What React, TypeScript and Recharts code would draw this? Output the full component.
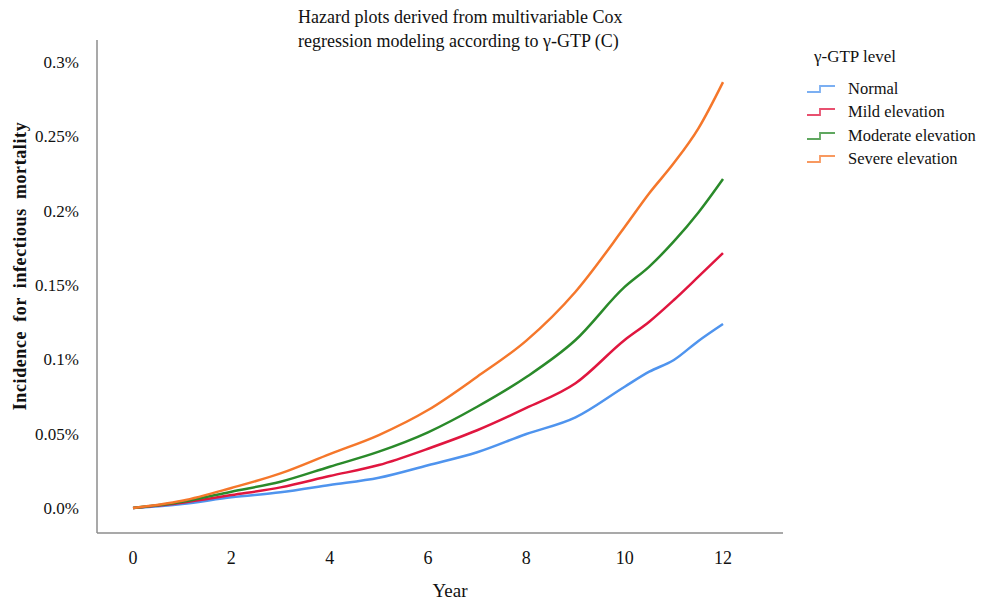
import React from "react"
import { LineChart, Line, XAxis, YAxis } from "recharts"

// years of follow-up
const years = [0, 1, 2, 3, 4, 5, 6, 7, 8, 9, 10, 10.5, 11, 11.5, 12]

// cumulative incidence (%)
const normal = [0, 0.0027, 0.0072, 0.0106, 0.0155, 0.0204, 0.0288, 0.0375, 0.0498, 0.061, 0.0816, 0.0917, 0.0996, 0.1124, 0.1238]
const mild = [0, 0.0036, 0.0087, 0.0139, 0.0215, 0.0289, 0.0399, 0.0523, 0.0673, 0.0839, 0.113, 0.1253, 0.1399, 0.1556, 0.1715]
const moderate = [0, 0.0042, 0.011, 0.0177, 0.0278, 0.0379, 0.0509, 0.0681, 0.0881, 0.113, 0.1487, 0.1624, 0.1793, 0.1988, 0.2213]
const severe = [0, 0.0049, 0.0135, 0.0233, 0.0363, 0.0491, 0.0659, 0.0883, 0.1126, 0.1455, 0.189, 0.2117, 0.232, 0.2554, 0.2865]

const xTicks = [0, 2, 4, 6, 8, 10, 12]
const yTicks = [0, 0.05, 0.1, 0.15, 0.2, 0.25, 0.3]
const yTickLabels = ["0.0%", "0.05%", "0.1%", "0.15%", "0.2%", "0.25%", "0.3%"]

const series = [
  { key: "normal", name: "Normal", color: "#4f94ee" },
  { key: "mild", name: "Mild elevation", color: "#e0163f" },
  { key: "moderate", name: "Moderate elevation", color: "#2a8a2a" },
  { key: "severe", name: "Severe elevation", color: "#f5772b" },
]

const data = years.map((y, i) => ({
  year: y,
  normal: normal[i],
  mild: mild[i],
  moderate: moderate[i],
  severe: severe[i],
}))

const font = '"Liberation Serif", "Times New Roman", serif'

export default function App() {
  return (
    <div style={{ position: "absolute", left: 0, top: 0, width: 985, height: 601, fontFamily: font, background: "#fff" }}>

      <div style={{ position: "absolute", left: 298, top: 5, fontSize: 18, lineHeight: "24px", color: "#111" }}>
        Hazard plots derived from multivariable Cox<br />
        regression modeling according to γ-GTP (C)
      </div>

      <LineChart
        width={985}
        height={601}
        data={data}
        margin={{ top: 40, right: 202, bottom: 28, left: 37 }}
      >
        <XAxis
          dataKey="year"
          type="number"
          domain={[-0.732, 13.22]}
          ticks={xTicks}
          allowDataOverflow
          height={40}
          stroke="#8c8c8c"
          strokeWidth={1.5}
          tickLine={false}
          tickSize={6}
          tickMargin={12}
          tick={{ fill: "#111", fontSize: 18, fontFamily: font }}
          label={{
            content: ({ viewBox }: any) => (
              <text
                x={viewBox.x + viewBox.width / 2 + 10}
                y={viewBox.y + 57}
                textAnchor="middle"
                dominantBaseline="central"
                fontSize={19}
                fontFamily={font}
                fill="#111"
              >
                Year
              </text>
            ),
          }}
        />
        <YAxis
          type="number"
          domain={[-0.0168, 0.3148]}
          ticks={yTicks}
          allowDataOverflow
          width={60}
          stroke="#8c8c8c"
          strokeWidth={1.5}
          tickLine={false}
          tickSize={6}
          tickMargin={12}
          tickFormatter={(v: number) => yTickLabels[yTicks.indexOf(v)] ?? ""}
          tick={{ fill: "#111", fontSize: 17, fontFamily: font }}
          label={{
            content: () => (
              <text
                x={20}
                y={266}
                transform="rotate(-90 20 266)"
                textAnchor="middle"
                dominantBaseline="central"
                fontSize={18}
                fontWeight="bold"
                fontFamily={font}
                letterSpacing={0.6}
                wordSpacing={4}
                fill="#111"
              >
                Incidence for infectious mortality
              </text>
            ),
          }}
        />
        {series.map((s) => (
          <Line
            key={s.key}
            dataKey={s.key}
            name={s.name}
            type="monotone"
            stroke={s.color}
            strokeWidth={2.5}
            dot={false}
            isAnimationActive={false}
          />
        ))}
      </LineChart>

      <div style={{ position: "absolute", left: 806, top: 46, color: "#111" }}>
        <div style={{ fontSize: 17, marginLeft: 8, marginBottom: 9, lineHeight: "22px" }}>γ-GTP level</div>
        {series.map((s) => (
          <div key={s.key} style={{ display: "flex", alignItems: "center", height: 23.5, fontSize: 16.5 }}>
            <svg width={30} height={10} style={{ marginRight: 12 }}>
              <path d="M1,8 H14 V2 H29" fill="none" stroke={s.color} strokeWidth={1.8} opacity={0.75} />
            </svg>
            <span>{s.name}</span>
          </div>
        ))}
      </div>
    </div>
  )
}
